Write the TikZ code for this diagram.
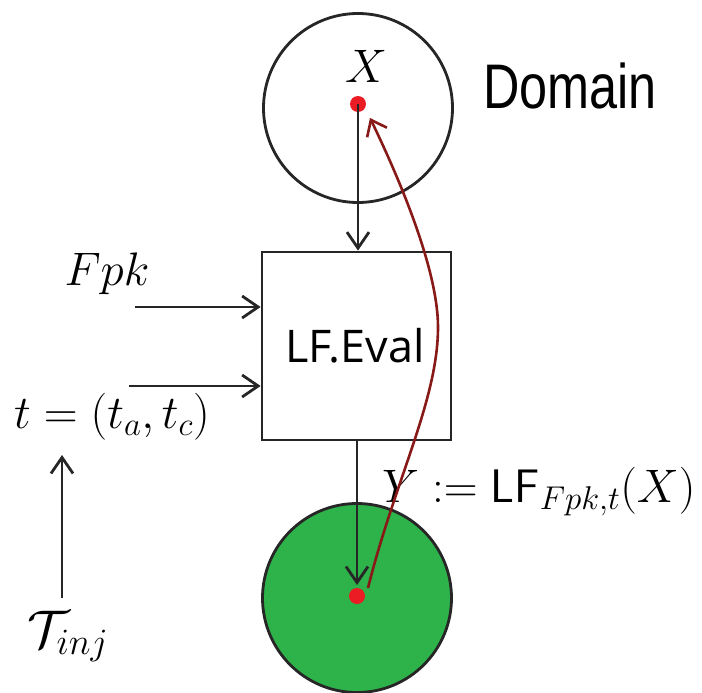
\RequirePackage{fix-cm}
\documentclass[tikz,border=0pt]{standalone}
\usepackage{fontspec}
\usepackage{amsmath}
\usetikzlibrary{arrows.meta}
\newfontfamily\domainfont{Liberation Sans}
\newfontfamily\evalfont{Open Sans}
\definecolor{dotred}{RGB}{236,28,36}
\definecolor{curvered}{RGB}{135,25,22}
\definecolor{setgreen}{RGB}{46,178,74}
\tikzset{
  ln/.style={line width=2.8pt, draw=black!85},
  arr/.style={ln, -{Straight Barb[length=16pt,width=22pt,line width=2.8pt]}},
  mathlbl/.style={inner sep=0pt, font=\fontsize{47}{53}\selectfont},
  dotmark/.style={circle, fill=dotred, inner sep=0pt, minimum size=16pt},
}
\begin{document}
\begin{tikzpicture}[x=1pt,y=-1pt]
\useasboundingbox (0,0) rectangle (702,693);
% top domain circle
\node[circle, ln, minimum size=189pt, inner sep=0pt] (dom) at (358,108) {};
\node[dotmark] (xd) at (358,104) {};
\node[mathlbl, anchor=base] (xl) at (366,83) {$X$};
\node[inner sep=0pt, anchor=base west] (domlbl) at (483,108) {\domainfont\fontsize{63}{70}\selectfont\scalebox{0.8}[1]{Domain}};
% eval box
\node[rectangle, ln, minimum width=189pt, minimum height=188pt, inner sep=0pt] (box) at (356.5,346) {};
\node[inner sep=0pt] (evl) at (355,346) {\evalfont\fontsize{45}{50}\selectfont LF.Eval};
% inputs
\node[mathlbl, anchor=base] (fpk) at (107,285) {$Fpk$};
\node[mathlbl, anchor=base west] (tl) at (14,428) {$t=(t_a,t_c)$};
\coordinate (in1) at (135,307);
\coordinate (in2) at (129,386);
\draw[arr] (in1) -- (box.west |- in1);
\draw[arr] (in2) -- (box.west |- in2);
% T_inj
\node[inner sep=0pt, anchor=base, font=\fontsize{53}{58}\selectfont] (tinj) at (68,647) {$\mathcal{T}_{inj}$};
\coordinate (tup0) at (62,598);
\coordinate (tup1) at (62,455);
\draw[arr] (tup0) -- (tup1);
% range circle
\node[circle, ln, fill=setgreen, minimum size=189pt, inner sep=0pt] (rng) at (357,598) {};
\node[dotmark] (yd) at (357,596) {};
\node[mathlbl, anchor=base west] (yl) at (382,502) {$Y := \mathsf{LF}_{Fpk,t}(X)$};
% arrows
\draw[arr] (xd.center) -- (box.north -| xd);
\coordinate (ytip) at (357,585);
\draw[arr] (box.south -| ytip) -- (ytip);
\coordinate (cstart) at (368,588);
\coordinate (cmid) at (438,327);
\coordinate (cend) at (370,118);
\draw[line width=2.6pt, draw=curvered, -{Straight Barb[length=14pt,width=22pt,line width=2.6pt]}]
  (cstart) .. controls (395,480) and (438,400) .. (cmid)
  .. controls (438,270) and (400,180) .. (cend);
\end{tikzpicture}
\end{document}
